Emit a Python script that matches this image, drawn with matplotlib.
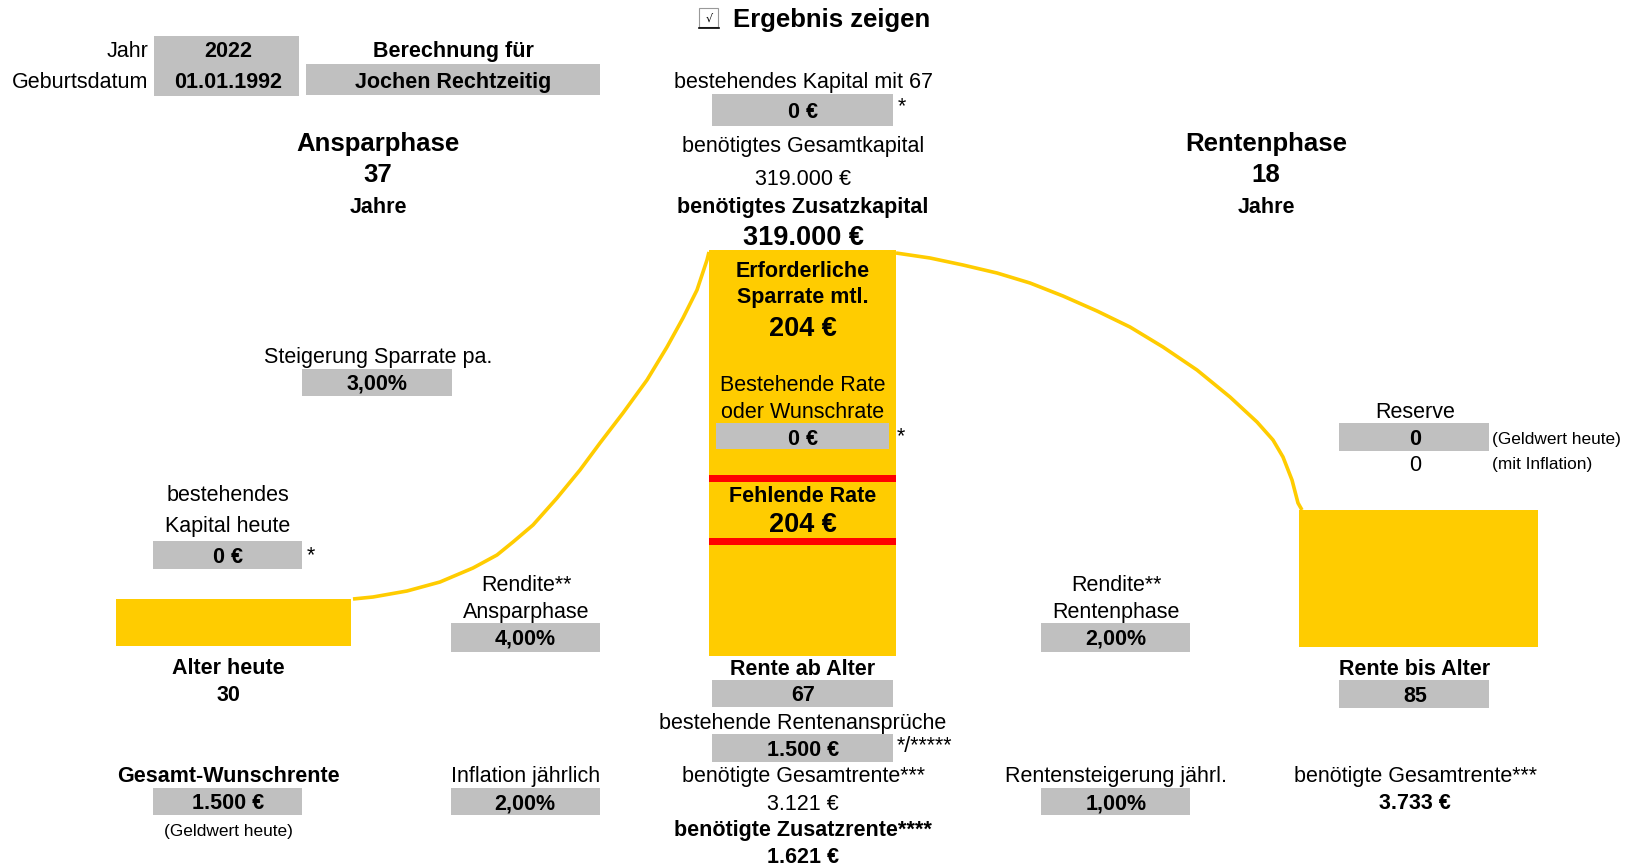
import matplotlib
matplotlib.use("Agg")
import matplotlib.pyplot as plt
from matplotlib.patches import Rectangle

plt.rcParams['font.family'] = ['Liberation Sans', 'DejaVu Sans']

# ---------------- data ----------------
kopf_labels = ["Jahr", "Geburtsdatum"]
kopf_werte = ["2022", "01.01.1992"]
berechnung_fuer = "Jochen Rechtzeitig"
phasen = ["Ansparphase", "Rentenphase"]
phasen_jahre = [37, 18]
kapital_mit_67 = "0 €"
gesamtkapital = "319.000 €"
zusatzkapital = "319.000 €"
sparrate_erforderlich = "204 €"
rate_bestehend = "0 €"
rate_fehlend = "204 €"
steigerung_sparrate = "3,00%"
kapital_heute = "0 €"
rendite = ["4,00%", "2,00%"]
alter = [30, 67, 85]
reserve = ["0", "0"]
wunschrente = "1.500 €"
inflation = "2,00%"
rentenansprueche = "1.500 €"
gesamtrente_67 = "3.121 €"
zusatzrente = "1.621 €"
rentensteigerung = "1,00%"
gesamtrente_85 = "3.733 €"

# curve points (pixel coords)
spar_x = [353, 373, 407, 440, 473, 497, 513, 533, 557, 580, 600, 623, 647, 667, 683, 697, 707, 709]
spar_y = [599, 597, 591, 582, 568, 555, 542, 525, 498, 470, 443, 413, 380, 347, 318, 290, 260, 252]
rent_x = [896, 930, 963, 997, 1030, 1063, 1097, 1130, 1163, 1197, 1230, 1257, 1273, 1283, 1292, 1298, 1302]
rent_y = [253, 258, 265, 273, 283, 296, 311, 327, 347, 370, 397, 422, 440, 457, 480, 503, 510]

YEL = "#FFCC00"
GRAY = "#C0C0C0"
RED = "#FF0000"

fig = plt.figure(figsize=(16.28, 8.66), dpi=100)
ax = fig.add_axes([0, 0, 1, 1])
ax.set_xlim(0, 1628)
ax.set_ylim(866, 0)
ax.axis('off')

N = 15.5   # normal size
B = 18.5   # big bold
S = 12.4   # small


def t(x, y, s, fs=N, bold=False, ha='center'):
    em = fs * 100 / 72
    ax.text(x, y + 0.36 * em, s, fontsize=fs, fontweight='bold' if bold else 'normal',
            ha=ha, va='baseline', color='black', zorder=5)


def box(x0, y0, x1, y1, color=GRAY, z=2):
    ax.add_patch(Rectangle((x0, y0), x1 - x0, y1 - y0, facecolor=color, edgecolor='none', zorder=z))


# ---------------- bars ----------------
bar_left = [116, 709, 1299]
bar_right = [351, 896, 1538]
bar_top = [599, 250, 510]
bar_bot = [646, 656, 647]
for x0, x1, y0, y1 in zip(bar_left, bar_right, bar_top, bar_bot):
    ax.bar((x0 + x1) / 2, y1 - y0, width=x1 - x0, bottom=y0, color=YEL, zorder=1)

# curves
ax.plot(spar_x, spar_y, color=YEL, lw=2.6, solid_capstyle='butt', solid_joinstyle='round', zorder=1)
ax.plot(rent_x, rent_y, color=YEL, lw=2.6, solid_capstyle='butt', solid_joinstyle='round', zorder=1)

# ---------------- top ----------------
ax.add_patch(Rectangle((699, 8), 19, 19, facecolor='white', edgecolor='#999999', lw=0.8, zorder=3))
ax.plot([699, 719], [28, 28], color='black', lw=1.2, zorder=4)
ax.text(709, 19, '√', fontsize=8, ha='center', va='center', family='DejaVu Sans', zorder=5)
t(733, 18, "Ergebnis zeigen", B, True, ha='left')

box(154, 36, 299, 95.5)
for lab, val, yy in zip(kopf_labels, kopf_werte, [49, 80]):
    t(148.5, yy, lab, N, ha='right')
    t(228, yy, val, N, True)
t(453, 49, "Berechnung für", N, True)
box(306, 64, 600, 94.5)
t(453, 80, berechnung_fuer, N, True)

for cx, name, yrs in zip([378, 1266], phasen, phasen_jahre):
    t(cx, 142, name, B, True)
    t(cx, 173, str(yrs), B, True)
    t(cx, 205.5, "Jahre", N, True)

# center column top
t(803, 80, "bestehendes Kapital mit 67", N)
box(712, 94, 893, 126)
t(803, 110, kapital_mit_67, N, True)
t(902, 104, "*", N)
t(803, 144, "benötigtes Gesamtkapital", N)
t(803, 177, gesamtkapital, N)
t(803, 205, "benötigtes Zusatzkapital", N, True)
t(803, 235, zusatzkapital, B + 1, True)

# inside big bar
t(803, 269, "Erforderliche", N, True)
t(803, 295, "Sparrate mtl.", N, True)
t(803, 326, sparrate_erforderlich, B + 1, True)
t(803, 383, "Bestehende Rate", N)
t(803, 410, "oder Wunschrate", N)
box(716, 423, 889, 449)
t(803, 437, rate_bestehend, N, True)
t(901, 434, "*", N)
box(709, 475, 896, 482, RED, 3)
t(803, 494, "Fehlende Rate", N, True)
t(803, 522, rate_fehlend, B + 1, True)
box(709, 537.5, 896, 544.5, RED, 3)

# left side
t(378, 355, "Steigerung Sparrate pa.", N)
box(302, 369, 452, 396)
t(377, 382, steigerung_sparrate, N, True)
t(228, 493, "bestehendes", N)
t(228, 524, "Kapital heute", N)
box(153, 541, 302, 569)
t(228, 555, kapital_heute, N, True)
t(311, 553, "*", N)
t(228, 666, "Alter heute", N, True)
t(228, 693, str(alter[0]), N, True)

t(526, 583, "Rendite**", N)
t(526, 610.5, "Ansparphase", N)
box(451, 623, 600, 652)
t(525, 637, rendite[0], N, True)

# center lower
t(803, 667, "Rente ab Alter", N, True)
box(712, 680, 893, 707)
t(803, 693, str(alter[1]), N, True)
t(803, 721, "bestehende Rentenansprüche", N)
box(712, 734, 893, 762)
t(803, 748, rentenansprueche, N, True)
t(897, 744, "*/*****", N, ha='left')
t(803, 774, "benötigte Gesamtrente***", N)
t(803, 802, gesamtrente_67, N)
t(803, 828, "benötigte Zusatzrente****", N, True)
t(803, 855, zusatzrente, N, True)

# right side
t(1116, 583, "Rendite**", N)
t(1116, 610.5, "Rentenphase", N)
box(1041, 623, 1190, 652)
t(1116, 637, rendite[1], N, True)

t(1415, 410, "Reserve", N)
box(1339, 423, 1489, 451)
t(1415, 437, reserve[0], N, True)
t(1492, 438, "(Geldwert heute)", S, ha='left')
t(1415, 463, reserve[1], N)
t(1492, 463, "(mit Inflation)", S, ha='left')

t(1415, 667, "Rente bis Alter", N, True)
box(1339, 680, 1489, 708)
t(1415, 694, str(alter[2]), N, True)

# bottom row
t(228, 774, "Gesamt-Wunschrente", N, True)
box(153, 788, 302, 815)
t(228, 801.5, wunschrente, N, True)
t(228, 830, "(Geldwert heute)", S)

t(526, 774, "Inflation jährlich", N)
box(451, 788, 600, 815)
t(525, 801.5, inflation, N, True)

t(1116, 774, "Rentensteigerung jährl.", N)
box(1041, 788, 1190, 815)
t(1116, 801.5, rentensteigerung, N, True)

t(1415, 774, "benötigte Gesamtrente***", N)
t(1415, 801.5, gesamtrente_85, N, True)

fig.savefig("out.png", dpi=100)
